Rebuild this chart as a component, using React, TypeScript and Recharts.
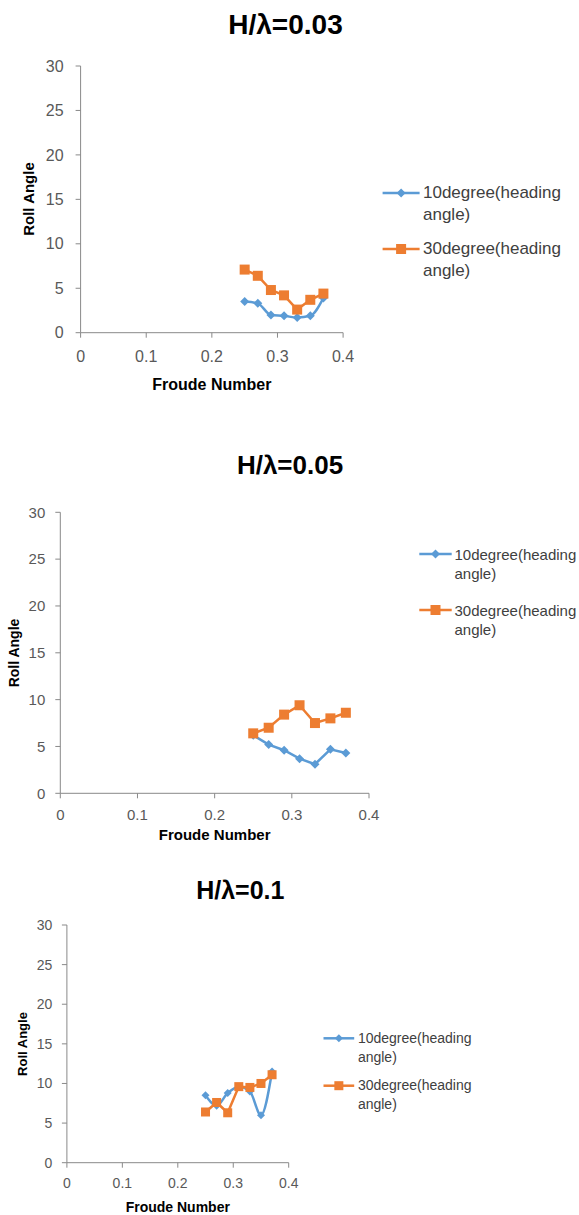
import { LineChart, Line, XAxis, YAxis } from "recharts";

// Froude numbers shared by every run
const froude = [0.25, 0.27, 0.29, 0.31, 0.33, 0.35, 0.37];
const xTicks = [0, 0.1, 0.2, 0.3, 0.4];
const yTicks = [0, 5, 10, 15, 20, 25, 30];

const seriesNames = ["10degree(heading angle)", "30degree(heading angle)"];
const titles = ["H/λ=0.03", "H/λ=0.05", "H/λ=0.1"];

// roll angle, H/λ = 0.03
const roll10H003 = [3.5, 3.3, 2.0, 1.9, 1.7, 1.9, 3.9];
const roll30H003 = [7.1, 6.4, 4.8, 4.2, 2.6, 3.7, 4.4];
// roll angle, H/λ = 0.05
const roll10H005 = [6.2, 5.2, 4.6, 3.7, 3.1, 4.7, 4.3];
const roll30H005 = [6.4, 7.0, 8.4, 9.4, 7.5, 8.0, 8.6];
// roll angle, H/λ = 0.1
const roll10H01 = [8.5, 7.2, 8.8, 9.6, 9.0, 6.0, 11.5];
const roll30H01 = [6.4, 7.6, 6.3, 9.6, 9.5, 10.0, 11.1];

const BLUE = "#5B9BD5";
const ORANGE = "#ED7D31";
const AXIS = "#898989";
const TICK = "#595959";
const FONT = '"Liberation Sans", Arial, sans-serif';

const X_AXIS_H = 30;
const Y_AXIS_W = 50;

type Panel = {
  title: string;
  s10: number[];
  s30: number[];
  smooth10: boolean;
  frameTop: number;
  frameH: number;
  plotLeft: number;
  plotRight: number;
  plotTop: number;
  plotBottom: number;
  tickFont: number;
  xTickMargin: number;
  yTickMargin: number;
  titleX: number;
  titleY: number;
  titleSize: number;
  rollX: number;
  rollSize: number;
  froudeY: number;
  froudeSize: number;
  legLine: [number, number];
  legTextX: number;
  legRows: [number, number];
  legFont: number;
  legLineH: number;
  diamond: number;
  square: number;
};

const panels: Panel[] = [
  {
    title: titles[0], s10: roll10H003, s30: roll30H003, smooth10: true,
    frameTop: 0, frameH: 400,
    plotLeft: 80.6, plotRight: 343.1, plotTop: 66, plotBottom: 332.7,
    tickFont: 16, xTickMargin: 13, yTickMargin: 12,
    titleX: 285.5, titleY: 25, titleSize: 28,
    rollX: 28.8, rollSize: 15, froudeY: 385, froudeSize: 16,
    legLine: [382.6, 419.6], legTextX: 423, legRows: [193, 249], legFont: 17, legLineH: 22,
    diamond: 9, square: 10,
  },
  {
    title: titles[1], s10: roll10H005, s30: roll30H005, smooth10: false,
    frameTop: 430, frameH: 410,
    plotLeft: 60.3, plotRight: 369, plotTop: 512.3, plotBottom: 793.3,
    tickFont: 15, xTickMargin: 11.5, yTickMargin: 10,
    titleX: 290, titleY: 466, titleSize: 26,
    rollX: 14, rollSize: 14, froudeY: 835, froudeSize: 15,
    legLine: [419.3, 451.7], legTextX: 454.5, legRows: [554, 610], legFont: 15, legLineH: 19,
    diamond: 9, square: 10,
  },
  {
    title: titles[2], s10: roll10H01, s30: roll30H01, smooth10: true,
    frameTop: 860, frameH: 355,
    plotLeft: 66.9, plotRight: 288.7, plotTop: 925, plotBottom: 1162.7,
    tickFont: 14, xTickMargin: 10.7, yTickMargin: 9.5,
    titleX: 240.3, titleY: 890, titleSize: 25,
    rollX: 22.9, rollSize: 13, froudeY: 1206.7, froudeSize: 14,
    legLine: [323.5, 354.2], legTextX: 357.9, legRows: [1038.3, 1085.7], legFont: 14, legLineH: 19,
    diamond: 8, square: 9,
  },
];

const diamondDot = (size: number, color: string) => (props: any) => {
  const { cx, cy, index } = props;
  const r = size / 2;
  return (
    <path
      key={`d-${index}`}
      d={`M${cx},${cy - r}L${cx + r},${cy}L${cx},${cy + r}L${cx - r},${cy}Z`}
      fill={color}
    />
  );
};

const squareDot = (size: number, color: string) => (props: any) => {
  const { cx, cy, index } = props;
  return (
    <rect
      key={`s-${index}`}
      x={cx - size / 2}
      y={cy - size / 2}
      width={size}
      height={size}
      fill={color}
    />
  );
};

const LegendItem = ({ p, row, color, name, shape }: { p: Panel; row: number; color: string; name: string; shape: "d" | "s" }) => {
  const y = p.legRows[row];
  const [x1, x2] = p.legLine;
  const mid = (x1 + x2) / 2;
  const r = (shape === "d" ? p.diamond : p.square) / 2;
  return (
    <>
      <svg
        style={{ position: "absolute", left: 0, top: 0, overflow: "visible" }}
        width={1}
        height={1}
      >
        <line x1={x1} y1={y} x2={x2} y2={y} stroke={color} strokeWidth={2.5} />
        {shape === "d" ? (
          <path d={`M${mid},${y - r}L${mid + r},${y}L${mid},${y + r}L${mid - r},${y}Z`} fill={color} />
        ) : (
          <rect x={mid - r} y={y - r} width={r * 2} height={r * 2} fill={color} />
        )}
      </svg>
      <div
        style={{
          position: "absolute",
          left: p.legTextX,
          top: y - p.legLineH / 2,
          fontSize: p.legFont,
          lineHeight: `${p.legLineH}px`,
          color: "#404040",
          whiteSpace: "pre",
        }}
      >
        {name.replace(" ", "\n")}
      </div>
    </>
  );
};

const ChartPanel = ({ p }: { p: Panel }) => {
  const data = froude.map((x, i) => ({ x, a: p.s10[i], b: p.s30[i] }));
  const margin = {
    top: p.plotTop - p.frameTop,
    bottom: p.frameH - (p.plotBottom - p.frameTop) - X_AXIS_H,
    left: p.plotLeft - Y_AXIS_W,
    right: 579 - p.plotRight,
  };
  const plotMidY = (p.plotTop + p.plotBottom) / 2;
  const plotMidX = (p.plotLeft + p.plotRight) / 2;

  return (
    <>
      <div style={{ position: "absolute", left: 0, top: p.frameTop }}>
        <LineChart width={579} height={p.frameH} data={data} margin={margin}>
          <XAxis
            type="number"
            dataKey="x"
            domain={[0, 0.4]}
            ticks={xTicks}
            height={X_AXIS_H}
            allowDataOverflow
            axisLine={{ stroke: AXIS }}
            tickLine={{ stroke: AXIS }}
            tickSize={5}
            tickMargin={p.xTickMargin}
            tick={{ fill: TICK, fontSize: p.tickFont }}
            interval={0}
          />
          <YAxis
            type="number"
            domain={[0, 30]}
            ticks={yTicks}
            width={Y_AXIS_W}
            allowDataOverflow
            axisLine={{ stroke: AXIS }}
            tickLine={{ stroke: AXIS }}
            tickSize={5}
            tickMargin={p.yTickMargin}
            tick={{ fill: TICK, fontSize: p.tickFont }}
            interval={0}
          />
          <Line
            dataKey="a"
            name={seriesNames[0]}
            type={p.smooth10 ? "monotone" : "linear"}
            stroke={BLUE}
            strokeWidth={2.5}
            dot={diamondDot(p.diamond, BLUE)}
            isAnimationActive={false}
          />
          <Line
            dataKey="b"
            name={seriesNames[1]}
            type="linear"
            stroke={ORANGE}
            strokeWidth={2.5}
            dot={squareDot(p.square, ORANGE)}
            isAnimationActive={false}
          />
        </LineChart>
      </div>

      <div
        style={{
          position: "absolute",
          left: p.titleX - 150,
          width: 300,
          top: p.titleY - p.titleSize * 0.6,
          lineHeight: `${p.titleSize * 1.2}px`,
          textAlign: "center",
          fontSize: p.titleSize,
          fontWeight: "bold",
          color: "#000",
        }}
      >
        {p.title}
      </div>

      <div
        style={{
          position: "absolute",
          left: p.rollX - 100,
          top: plotMidY - 10,
          width: 200,
          height: 20,
          lineHeight: "20px",
          textAlign: "center",
          fontSize: p.rollSize,
          fontWeight: "bold",
          color: "#000",
          transform: "rotate(-90deg)",
        }}
      >
        Roll Angle
      </div>

      <div
        style={{
          position: "absolute",
          left: plotMidX - 100,
          top: p.froudeY - 10,
          width: 200,
          height: 20,
          lineHeight: "20px",
          textAlign: "center",
          fontSize: p.froudeSize,
          fontWeight: "bold",
          color: "#000",
        }}
      >
        Froude Number
      </div>

      <LegendItem p={p} row={0} color={BLUE} name={seriesNames[0]} shape="d" />
      <LegendItem p={p} row={1} color={ORANGE} name={seriesNames[1]} shape="s" />
    </>
  );
};

export default function App() {
  return (
    <div
      style={{
        position: "absolute",
        left: 0,
        top: 0,
        width: 579,
        height: 1215,
        overflow: "hidden",
        background: "#fff",
        fontFamily: FONT,
      }}
    >
      {panels.map((p) => (
        <ChartPanel key={p.title} p={p} />
      ))}
    </div>
  );
}
